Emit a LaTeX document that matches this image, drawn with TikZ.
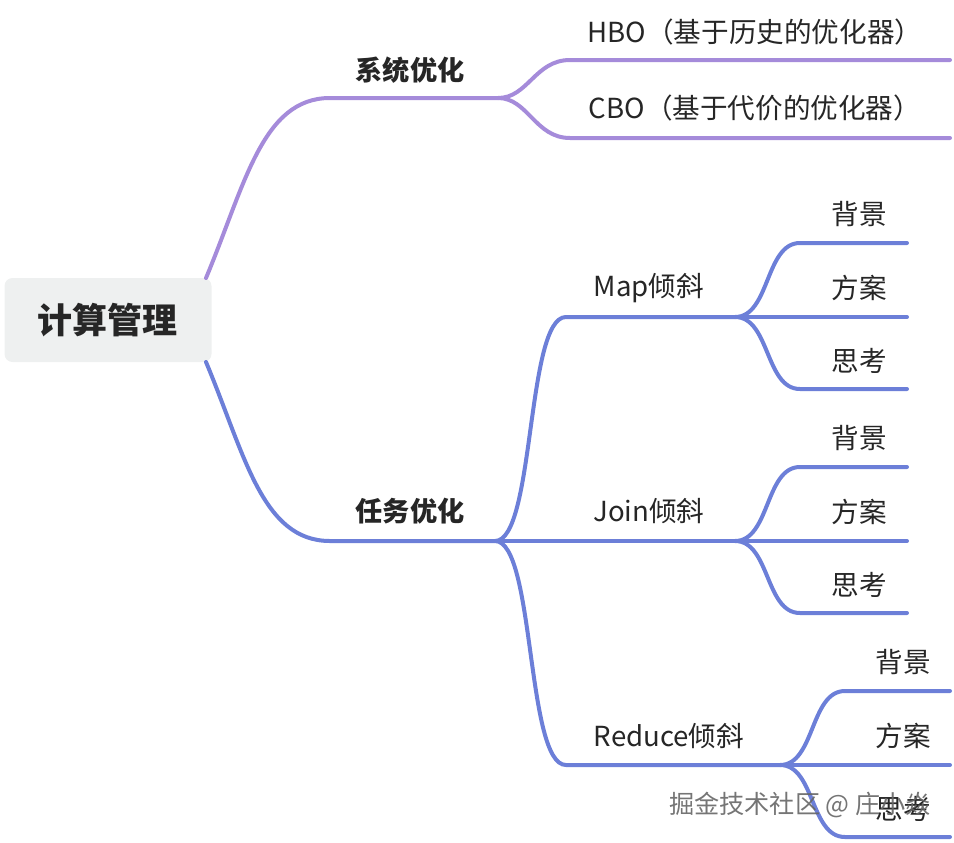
\documentclass[tikz,border=0pt]{standalone}
\usepackage{fontspec}
\newfontfamily\cjk{Noto Sans CJK SC}
\definecolor{Lilac}{HTML}{A58BDA}
\definecolor{Iris}{HTML}{6C7FD8}
\definecolor{Pebble}{HTML}{EEF0F0}
\definecolor{Ink}{HTML}{262626}

\begin{document}
\begin{tikzpicture}[x=0.5pt,y=-0.5pt,
  every node/.style={font=\cjk\fontsize{13.8}{16}\selectfont,text=Ink},
  lilac/.style={Lilac,line width=2pt,line cap=round},
  iris/.style={Iris,line width=2pt,line cap=round},
  topic/.style={font=\cjk\bfseries\fontsize{13.6}{16}\selectfont}]
\useasboundingbox (0,0) rectangle (954,842);
% root
\node[fill=Pebble,rounded corners=4pt,minimum width=103.5pt,minimum height=42pt,
  font=\cjk\bfseries\fontsize{17.5}{20}\selectfont] (root) at (108,320) {计算管理};
\coordinate (root-t) at (206,278);
\coordinate (root-b) at (206,362);
% system branch
\coordinate (sys-a) at (330,98);\coordinate (sys-b) at (498,98);
\node[topic] (sys) at (410,70) {系统优化};
\draw[lilac] (root-t) .. controls (245,185) and (262,98) .. (sys-a) -- (sys-b);
\coordinate (hbo-a) at (570,60);\coordinate (hbo-b) at (950,60);
\coordinate (cbo-a) at (570,138);\coordinate (cbo-b) at (950,138);
\node (hbo) at (755,32) {HBO（基于历史的优化器）};
\node (cbo) at (755,108) {CBO（基于代价的优化器）};
\draw[lilac] (sys-b) .. controls +(30,0) and +(-35,0) .. (hbo-a) -- (hbo-b);
\draw[lilac] (sys-b) .. controls +(30,0) and +(-35,0) .. (cbo-a) -- (cbo-b);
% task branch
\coordinate (task-a) at (330,541);\coordinate (task-b) at (495,541);
\node[topic] (task) at (410,511) {任务优化};
\draw[iris] (root-b) .. controls (245,455) and (262,541) .. (task-a) -- (task-b);
\coordinate (map-a) at (566,317);\coordinate (map-b) at (735,317);
\coordinate (join-b) at (735,541);
\coordinate (red-a) at (566,765);\coordinate (red-b) at (780,765);
\node (map) at (649,288) {Map倾斜};
\node (join) at (649,511) {Join倾斜};
\node (red) at (669,736) {Reduce倾斜};
\draw[iris] (task-b) .. controls +(40,0) and +(-40,0) .. (map-a) -- (map-b);
\draw[iris] (task-b) -- (join-b);
\draw[iris] (task-b) .. controls +(40,0) and +(-40,0) .. (red-a) -- (red-b);
% leaves
\foreach \p/\x/\y/\w in {map/800/317/907,join/800/541/907,red/845/765/950}{
  \coordinate (\p-1) at (\x,\y-74);\coordinate (\p-1e) at (\w,\y-74);
  \coordinate (\p-2e) at (\w,\y);
  \coordinate (\p-3) at (\x,\y+72);\coordinate (\p-3e) at (\w,\y+72);
  \node (\p-bg) at ({(\x+\w)/2+6},\y-103) {背景};
  \node (\p-fa) at ({(\x+\w)/2+6},\y-29) {方案};
  \node (\p-sk) at ({(\x+\w)/2+6},\y+44) {思考};
  \draw[iris] (\p-b) .. controls +(35,0) and +(-35,0) .. (\p-1) -- (\p-1e);
  \draw[iris] (\p-b) -- (\p-2e);
  \draw[iris] (\p-b) .. controls +(35,0) and +(-35,0) .. (\p-3) -- (\p-3e);
}
% watermark
\node[font=\cjk\fontsize{12.6}{15}\selectfont,text=black!60,opacity=.9] (mark) at (800,805) {掘金技术社区 @ 庄小焱};
\end{tikzpicture}
\end{document}
